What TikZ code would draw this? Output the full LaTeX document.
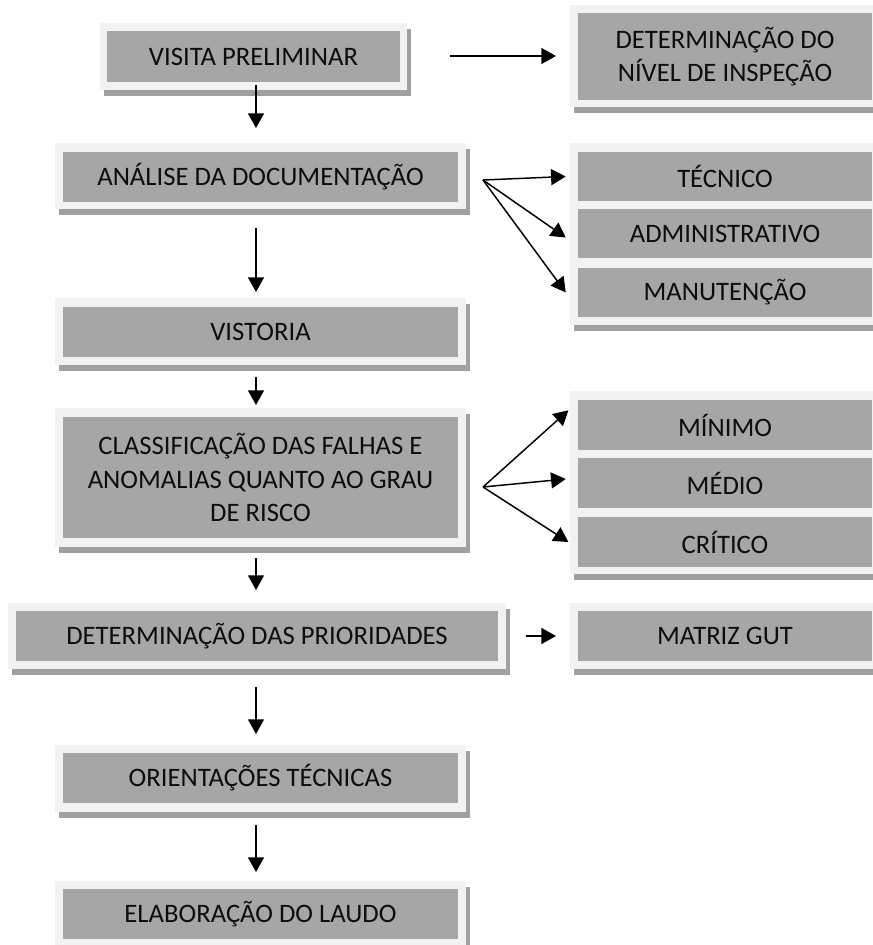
\documentclass[tikz,border=0pt]{standalone}
\usepackage{fontspec}
\setmainfont{Carlito}
\usetikzlibrary{arrows.meta}
\definecolor{cinzacaixa}{RGB}{166,166,166}
\definecolor{cinzamoldura}{RGB}{242,242,242}
\definecolor{cinzasombra}{RGB}{160,160,160}
\definecolor{texto}{RGB}{13,13,13}
% moldura clara com sombra: x1, y1, x2, y2 (em pixels)
\newcommand{\moldura}[4]{%
    \fill[cinzasombra] (#1+4,#2+6) rectangle (#3+4,#4+6);
    \fill[cinzamoldura] (#1,#2) rectangle (#3,#4);}
\begin{document}
\begin{tikzpicture}[x=0.75pt,y=-0.75pt,
    every node/.append style={font=\fontsize{20}{25}\selectfont,text=texto},
    caixa/.style={fill=cinzacaixa,minimum height=37.5pt,inner sep=0pt,align=center},
    esq/.style={caixa,minimum width=296.25pt},
    dir/.style={caixa,minimum width=220.5pt},
    seta/.style={-{Triangle[width=12pt,length=11pt]},line width=1.1pt}]
    \useasboundingbox[fill=white] (0,0) rectangle (872,945);

    \moldura{100}{23}{407}{90}
    \moldura{570}{5}{880}{107}
    \moldura{55}{143}{466}{209}
    \moldura{570}{143}{880}{325}
    \moldura{55}{298}{466}{365}
    \moldura{55}{408}{466}{547}
    \moldura{570}{391}{880}{574}
    \moldura{8}{603}{506}{669}
    \moldura{570}{603}{880}{669}
    \moldura{55}{745}{466}{812}
    \moldura{55}{881}{466}{950}

    \node[caixa,minimum width=219.75pt,minimum height=38.25pt] (visita) at (253.5,56.5) {VISITA PRELIMINAR};
    \node[dir,minimum height=65.25pt] (nivel) at (725,56.5) {DETERMINAÇÃO DO\\NÍVEL DE INSPEÇÃO};
    \node[esq] (analise) at (260.5,177) {ANÁLISE DA DOCUMENTAÇÃO};
    \node[dir,minimum height=36.75pt] (tecnico) at (725,176.5) {TÉCNICO};
    \node[dir,minimum height=36.75pt] (admin) at (725,233.5) {ADMINISTRATIVO};
    \node[dir,minimum height=36.75pt] (manut) at (725,292.5) {MANUTENÇÃO};
    \node[esq] (vistoria) at (260.5,332) {VISTORIA};
    \node[esq,minimum height=90.75pt] (classif) at (260.5,477.5) {CLASSIFICAÇÃO DAS FALHAS E\\ANOMALIAS QUANTO AO GRAU\\DE RISCO};
    \node[dir] (minimo) at (725,425) {MÍNIMO};
    \node[dir] (medio) at (725,483) {MÉDIO};
    \node[dir] (critico) at (725,542) {CRÍTICO};
    \node[caixa,minimum width=361.5pt] (prior) at (257,636) {DETERMINAÇÃO DAS PRIORIDADES};
    \node[dir] (matriz) at (725,636) {MATRIZ GUT};
    \node[esq] (orient) at (260.5,778) {ORIENTAÇÕES TÉCNICAS};
    \node[esq] (laudo) at (260.5,914) {ELABORAÇÃO DO LAUDO};

    % pontas livres das setas
    \coordinate (v1) at (256,85);   \coordinate (v2) at (256,128);
    \coordinate (h1) at (450,56);   \coordinate (h2) at (556,56);
    \coordinate (a1) at (256,228);  \coordinate (a2) at (256,292);
    \coordinate (d0) at (483,180);
    \coordinate (s1) at (256,377);  \coordinate (s2) at (256,405);
    \coordinate (r0) at (483,487);
    \coordinate (c1) at (256,558);  \coordinate (c2) at (256,590);
    \coordinate (p1) at (526,636);  \coordinate (p2) at (556,636);
    \coordinate (o1) at (256,687);  \coordinate (o2) at (256,734);
    \coordinate (e1) at (256,825);  \coordinate (e2) at (256,872);

    \path[seta]
        (v1) edge (v2)
        (h1) edge (h2)
        (a1) edge (a2)
        (d0) edge ([xshift=-9pt]tecnico.west)
        (d0) edge ([xshift=-9pt,yshift=-3pt]admin.west)
        (d0) edge ([xshift=-9pt]manut.west)
        (s1) edge (s2)
        (r0) edge ([xshift=-7pt,yshift=11pt]minimo.west)
        (r0) edge ([xshift=-9pt,yshift=3pt]medio.west)
        (r0) edge ([xshift=-7pt]critico.west)
        (c1) edge (c2)
        (p1) edge (p2)
        (o1) edge (o2)
        (e1) edge (e2);
\end{tikzpicture}
\end{document}
